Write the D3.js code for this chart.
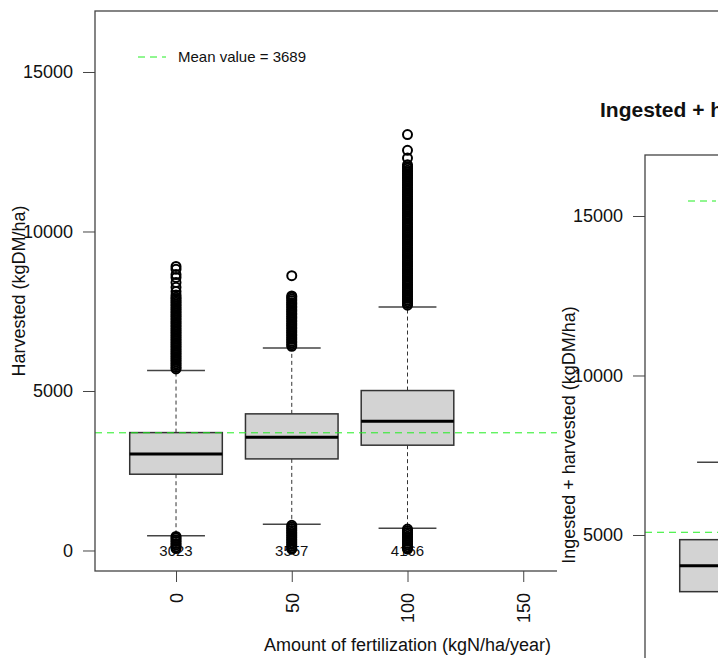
<!DOCTYPE html>
<html>
<head>
<meta charset="utf-8">
<script src="https://cdn.jsdelivr.net/npm/d3@7"></script>
<style>
body { margin: 0; background: #fff; }
svg { display: block; font-family: "Liberation Sans", Arial, sans-serif; }
</style>
</head>
<body>
<script>
// Harvested, per fertilization level
const fertLevels = [0, 50, 100];
const harvQ1 = [2391, 2871, 3301];
const harvMedian = [3028, 3552, 4054];
const harvQ3 = [3696, 4283, 5014];
const harvWhiskLow = [464, 822, 697];
const harvWhiskHigh = [5642, 6344, 7631];
const harvGroupMeans = [3023, 3557, 4166];
const harvMean = 3689;
const harvOutHigh = [
  [5690, 5740, 5800, 5850, 5910, 5960, 6020, 6070, 6130, 6180, 6240, 6290, 6350, 6400, 6460, 6510,
   6570, 6620, 6680, 6730, 6790, 6840, 6900, 6950, 7010, 7060, 7120, 7170, 7230, 7280, 7340, 7390,
   7450, 7500, 7560, 7610, 7670, 7720, 7780, 7830, 7890, 7940, 8010, 8120, 8250, 8400, 8560, 8650, 8820, 8905],
  [6400, 6450, 6510, 6560, 6620, 6670, 6730, 6780, 6840, 6890, 6950, 7000, 7060, 7110, 7170, 7220,
   7280, 7330, 7390, 7440, 7500, 7550, 7610, 7660, 7720, 7770, 7830, 7880, 7940, 7980, 8614],
  [7690, 7740, 7800, 7850, 7910, 7960, 8020, 8070, 8130, 8180, 8240, 8290, 8350, 8400, 8460, 8510,
   8570, 8620, 8680, 8730, 8790, 8840, 8900, 8950, 9010, 9060, 9120, 9170, 9230, 9280, 9340, 9390,
   9450, 9500, 9560, 9610, 9670, 9720, 9780, 9830, 9890, 9940, 10000, 10050, 10110, 10160, 10220, 10270,
   10330, 10380, 10440, 10490, 10550, 10600, 10660, 10710, 10770, 10820, 10880, 10930, 10990, 11040,
   11100, 11150, 11210, 11260, 11320, 11370, 11430, 11480, 11540, 11590, 11650, 11700, 11760, 11810,
   11870, 11920, 11980, 12030, 12090, 12300, 12545, 13037]
];
const harvOutLow = [
  [440, 390, 330, 280, 220, 170, 110, 60],
  [790, 740, 680, 630, 570, 520, 460, 410, 350, 300, 240, 190, 130, 80, 40],
  [670, 620, 560, 510, 450, 400, 340, 290, 230, 180, 120, 70, 40]
];

// Ingested + harvested (only the first group is in view)
const ingLevels = [0];
const ingQ1 = [3223];
const ingMedian = [4038];
const ingQ3 = [4853];
const ingWhiskLow = [800];
const ingWhiskHigh = [7279];
const ingMean = 5085;

const yTicks = [0, 5000, 10000, 15000];
const xTicks = [0, 50, 100, 150, 200];

const W = 625, H = 560;
const svg = d3.select("body").append("svg").attr("width", 718).attr("height", 658);

const x = d3.scaleLinear().domain([-35, 235]).range([0, W]);
const y = d3.scaleLinear().domain([-643, 16912]).range([H, 0]);
const boxW = x(50) - x(0);

function drawPanel(g, p) {
  // axes
  const ya = g.append("g").call(d3.axisLeft(y).tickValues(p.yTicks).tickFormat(d3.format("d"))
    .tickSize(12).tickPadding(10));
  ya.select(".domain").remove();
  ya.selectAll("line").attr("stroke", "#444");
  ya.selectAll("text").attr("font-size", 18).attr("fill", "#111").attr("font-family", null);

  if (p.xAxis) {
    const xa = g.append("g").attr("transform", `translate(0,${H})`)
      .call(d3.axisBottom(x).tickValues(xTicks).tickSize(11));
    xa.select(".domain").remove();
    xa.selectAll("line").attr("stroke", "#444");
    xa.selectAll("text").attr("font-size", 18).attr("fill", "#111").attr("font-family", null)
      .attr("transform", "rotate(-90)").attr("text-anchor", "end")
      .attr("x", -22).attr("y", 0).attr("dy", "0.35em");
    g.append("text").attr("x", W / 2).attr("y", 640).attr("text-anchor", "middle")
      .attr("font-size", 18).attr("fill", "#111").text("Amount of fertilization (kgN/ha/year)");
  }

  g.append("text").attr("transform", `translate(-70,${H / 2}) rotate(-90)`)
    .attr("text-anchor", "middle").attr("font-size", 18).attr("fill", "#111").text(p.ylab);

  if (p.title) {
    g.append("text").attr("x", -45).attr("y", -38).attr("font-size", 21)
      .attr("font-weight", "bold").attr("fill", "#111").text(p.title);
  }

  p.levels.forEach((lv, i) => {
    const cx = x(lv);
    const b = g.append("g");
    // whiskers
    [[p.q3[i], p.hi[i]], [p.q1[i], p.lo[i]]].forEach(([a, z]) => {
      b.append("line").attr("x1", cx).attr("x2", cx).attr("y1", y(a)).attr("y2", y(z))
        .attr("stroke", "#333").attr("stroke-dasharray", "4,3");
      b.append("line").attr("x1", cx - boxW / 4).attr("x2", cx + boxW / 4)
        .attr("y1", y(z)).attr("y2", y(z)).attr("stroke", "#444").attr("stroke-width", 1.5);
    });
    b.append("rect").attr("x", cx - boxW * 0.4).attr("width", boxW * 0.8)
      .attr("y", y(p.q3[i])).attr("height", y(p.q1[i]) - y(p.q3[i]))
      .attr("fill", "#d3d3d3").attr("stroke", "#333").attr("stroke-width", 1.5);
    b.append("line").attr("x1", cx - boxW * 0.4).attr("x2", cx + boxW * 0.4)
      .attr("y1", y(p.med[i])).attr("y2", y(p.med[i])).attr("stroke", "#000").attr("stroke-width", 3);
    if (p.groupMeans) {
      b.append("text").attr("x", cx).attr("y", y(0)).attr("dy", "0.35em").attr("text-anchor", "middle")
        .attr("font-size", 15).attr("fill", "#111").text(p.groupMeans[i]);
    }
    if (p.outHigh) {
      b.selectAll("circle").data(p.outHigh[i].concat(p.outLow[i])).enter().append("circle")
        .attr("cx", cx).attr("cy", d => y(d)).attr("r", 4.5)
        .attr("fill", "none").attr("stroke", "#000").attr("stroke-width", 2);
    }
  });

  // mean line + legend
  g.append("line").attr("x1", 0).attr("x2", W).attr("y1", y(p.mean)).attr("y2", y(p.mean))
    .attr("stroke", "#22ee22").attr("stroke-dasharray", "7,5");
  g.append("line").attr("x1", 43).attr("x2", 71).attr("y1", 46).attr("y2", 46)
    .attr("stroke", "#22ee22").attr("stroke-dasharray", "7,5");
  if (p.legendText) {
    g.append("text").attr("x", 83).attr("y", 46).attr("dy", "0.35em").attr("font-size", 15)
      .attr("fill", "#111").text("Mean value = " + p.mean);
  }

  g.append("rect").attr("width", W).attr("height", H).attr("fill", "none")
    .attr("stroke", "#444").attr("stroke-width", 1.3);
}

const left = svg.append("g").attr("transform", "translate(95,11)");
drawPanel(left, {
  levels: fertLevels, q1: harvQ1, med: harvMedian, q3: harvQ3, lo: harvWhiskLow, hi: harvWhiskHigh,
  groupMeans: harvGroupMeans, outHigh: harvOutHigh, outLow: harvOutLow, mean: harvMean,
  ylab: "Harvested (kgDM/ha)", yTicks: yTicks, xAxis: true, legendText: true
});

// second figure sits on top of the first one; only its upper-left corner is in view
svg.append("rect").attr("x", 557).attr("y", 22).attr("width", 200).attr("height", 660).attr("fill", "#fff");

const right = svg.append("g").attr("transform", "translate(645,155)");
drawPanel(right, {
  levels: ingLevels, q1: ingQ1, med: ingMedian, q3: ingQ3, lo: ingWhiskLow, hi: ingWhiskHigh,
  mean: ingMean, ylab: "Ingested + harvested (kgDM/ha)", title: "Ingested + harvested",
  yTicks: yTicks.slice(1), xAxis: false, legendText: false
});
</script>
</body>
</html>
